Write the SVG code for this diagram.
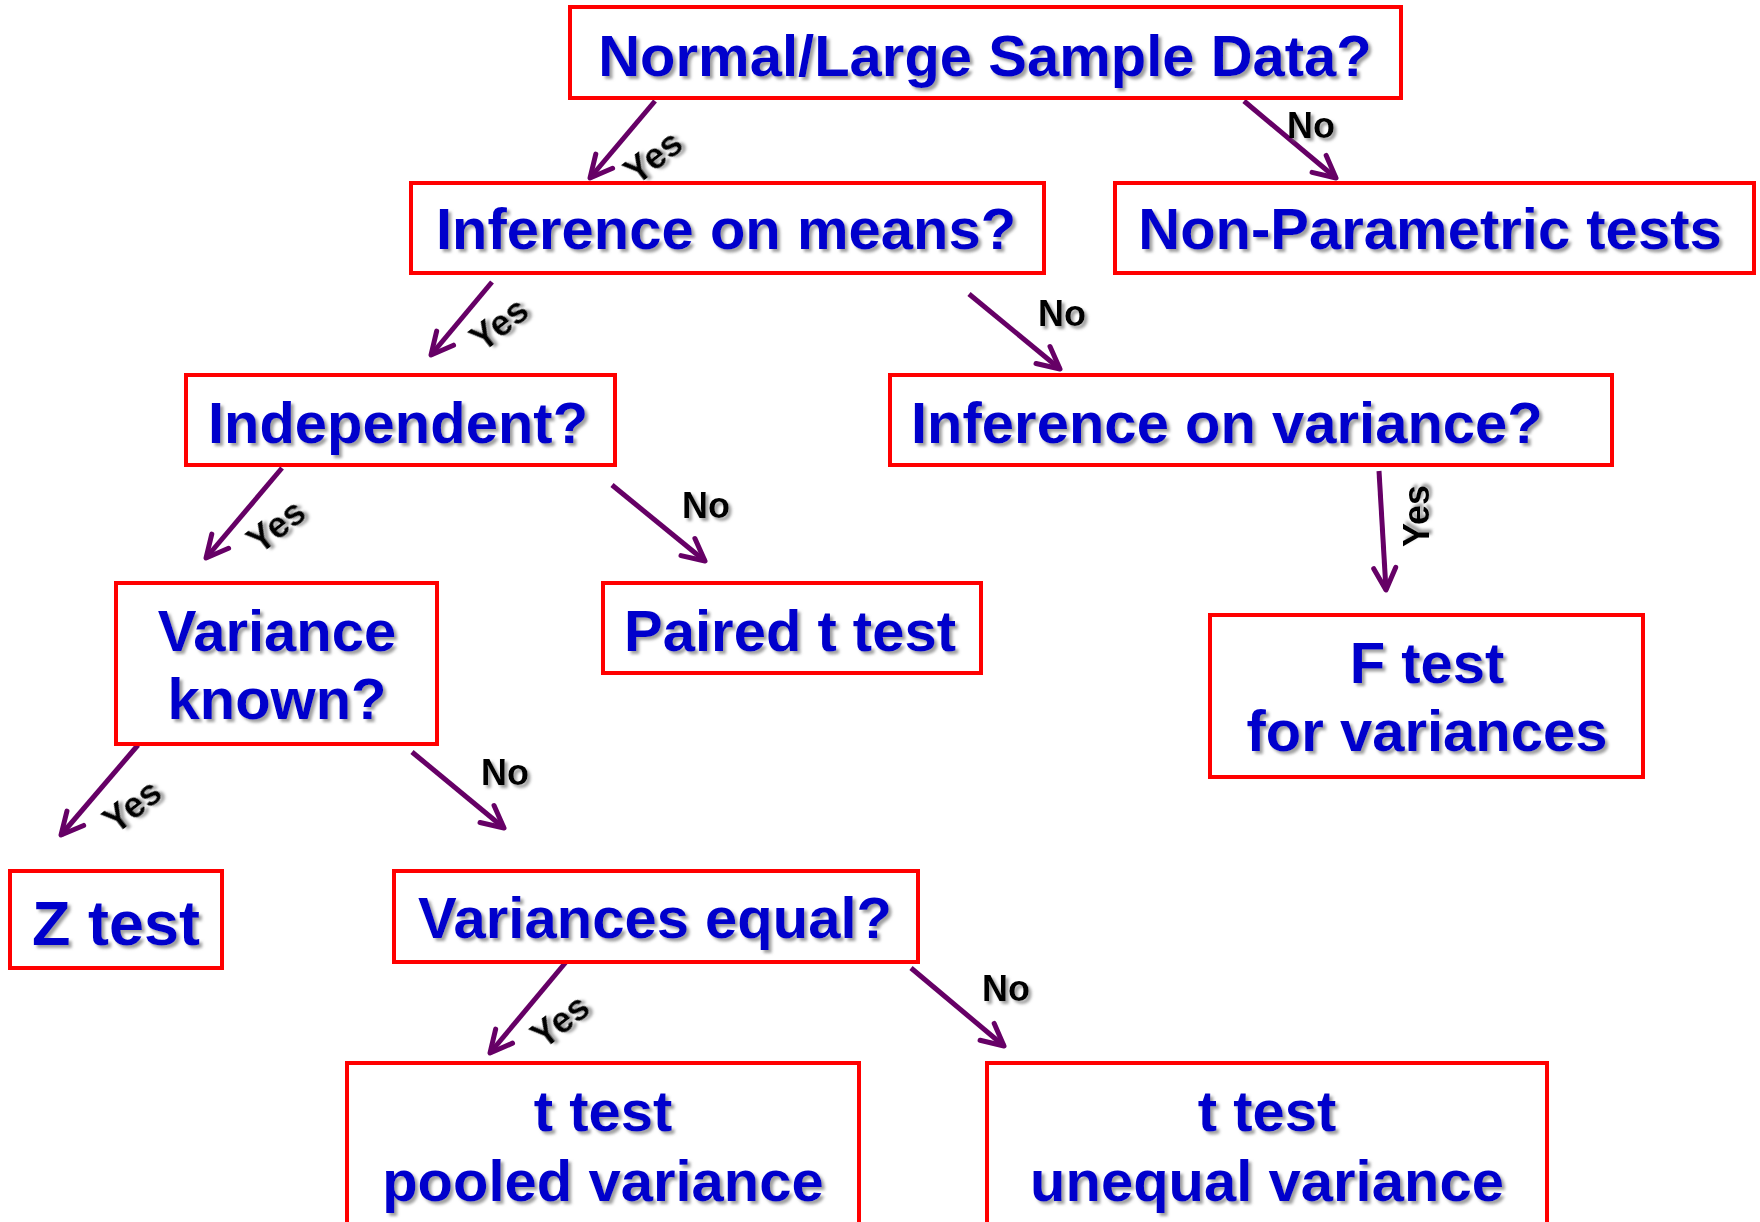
<svg xmlns="http://www.w3.org/2000/svg" width="1760" height="1222" viewBox="0 0 1760 1222">
  <style>
    .box { fill: #FFFFFF; stroke: #FF0000; stroke-width: 4; }
    .t { font-family: "Liberation Sans", Arial, sans-serif; font-weight: bold; font-size: 58px; fill: #0000CC; filter: url(#shadow); }
    .lbl { font-family: "Liberation Sans", Arial, sans-serif; font-weight: bold; font-size: 36px; fill: #000000; filter: url(#shadow); }
    .arrow { fill: none; stroke: #660066; stroke-width: 5; marker-end: url(#head); }
  </style>
  <defs>
    <filter id="shadow" x="-10%" y="-20%" width="130%" height="150%">
      <feDropShadow dx="3" dy="3" stdDeviation="1.5" flood-color="#777777" flood-opacity="0.7"/>
    </filter>
    <marker id="head" markerUnits="userSpaceOnUse" markerWidth="30" markerHeight="30" viewBox="0 0 30 30" refX="26" refY="15" orient="auto">
      <path d="M4,4 L26,15 L4,26" fill="none" stroke="#660066" stroke-width="5" stroke-linecap="round" stroke-linejoin="round"/>
    </marker>
  </defs>
  <rect width="1760" height="1222" fill="#FFFFFF"/>

  <!-- connectors -->
  <g id="connectors">
    <line class="arrow" x1="655" y1="101" x2="590" y2="178"/>
    <line class="arrow" x1="1244" y1="101" x2="1336" y2="178"/>
    <line class="arrow" x1="492" y1="282" x2="431" y2="355"/>
    <line class="arrow" x1="969" y1="294" x2="1060" y2="369"/>
    <line class="arrow" x1="282" y1="468" x2="206" y2="558"/>
    <line class="arrow" x1="612" y1="485" x2="705" y2="561"/>
    <line class="arrow" x1="1379" y1="471" x2="1386" y2="590"/>
    <line class="arrow" x1="138" y1="745" x2="61" y2="835"/>
    <line class="arrow" x1="412" y1="752" x2="504" y2="828"/>
    <line class="arrow" x1="566" y1="962" x2="490" y2="1053"/>
    <line class="arrow" x1="911" y1="968" x2="1004" y2="1046"/>

    <text class="lbl" text-anchor="middle" transform="translate(661,167) rotate(-38)">Yes</text>
    <text class="lbl" x="1311" y="138" text-anchor="middle">No</text>
    <text class="lbl" text-anchor="middle" transform="translate(507,334) rotate(-38)">Yes</text>
    <text class="lbl" x="1062" y="326" text-anchor="middle">No</text>
    <text class="lbl" text-anchor="middle" transform="translate(284,536) rotate(-38)">Yes</text>
    <text class="lbl" x="706" y="518" text-anchor="middle">No</text>
    <text class="lbl" text-anchor="middle" transform="translate(1429,516) rotate(-90)">Yes</text>
    <text class="lbl" text-anchor="middle" transform="translate(140,816) rotate(-38)">Yes</text>
    <text class="lbl" x="505" y="785" text-anchor="middle">No</text>
    <text class="lbl" text-anchor="middle" transform="translate(568,1031) rotate(-38)">Yes</text>
    <text class="lbl" x="1006" y="1001" text-anchor="middle">No</text>
  </g>

  <!-- nodes -->
  <g id="normal-large">
    <rect class="box" x="570" y="7" width="831" height="91"/>
    <text class="t" x="985" y="76" text-anchor="middle">Normal/Large Sample Data?</text>
  </g>
  <g id="inference-means">
    <rect class="box" x="411" y="183" width="633" height="90"/>
    <text class="t" x="726" y="249" text-anchor="middle">Inference on means?</text>
  </g>
  <g id="non-parametric">
    <rect class="box" x="1115" y="183" width="639" height="90"/>
    <text class="t" x="1430" y="249" text-anchor="middle">Non-Parametric tests</text>
  </g>
  <g id="independent">
    <rect class="box" x="186" y="375" width="429" height="90"/>
    <text class="t" x="398" y="443" text-anchor="middle">Independent?</text>
  </g>
  <g id="inference-variance">
    <rect class="box" x="890" y="375" width="722" height="90"/>
    <text class="t" x="911" y="443">Inference on variance?</text>
  </g>
  <g id="variance-known">
    <rect class="box" x="116" y="583" width="321" height="161"/>
    <text class="t" x="277" y="651" text-anchor="middle">Variance</text>
    <text class="t" x="277" y="719" text-anchor="middle">known?</text>
  </g>
  <g id="paired-t">
    <rect class="box" x="603" y="583" width="378" height="90"/>
    <text class="t" x="790" y="651" text-anchor="middle">Paired t test</text>
  </g>
  <g id="f-test">
    <rect class="box" x="1210" y="615" width="433" height="162"/>
    <text class="t" x="1427" y="683" text-anchor="middle">F test</text>
    <text class="t" x="1427" y="751" text-anchor="middle">for variances</text>
  </g>
  <g id="z-test">
    <rect class="box" x="10" y="871" width="212" height="97"/>
    <text class="t" x="116" y="945" text-anchor="middle" style="font-size:63px">Z test</text>
  </g>
  <g id="variances-equal">
    <rect class="box" x="394" y="871" width="524" height="91"/>
    <text class="t" x="655" y="938" text-anchor="middle">Variances equal?</text>
  </g>
  <g id="t-pooled">
    <rect class="box" x="347" y="1063" width="512" height="180"/>
    <text class="t" x="603" y="1131" text-anchor="middle">t test</text>
    <text class="t" x="603" y="1201" text-anchor="middle">pooled variance</text>
  </g>
  <g id="t-unequal">
    <rect class="box" x="987" y="1063" width="560" height="180"/>
    <text class="t" x="1267" y="1131" text-anchor="middle">t test</text>
    <text class="t" x="1267" y="1201" text-anchor="middle">unequal variance</text>
  </g>
</svg>
